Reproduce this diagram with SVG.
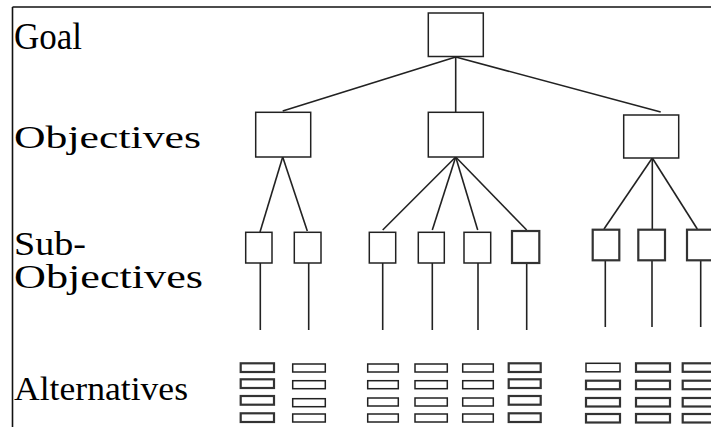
<svg xmlns="http://www.w3.org/2000/svg" width="711" height="427" viewBox="0 0 711 427">
<style>
.bx{fill:#fff;stroke:#222;stroke-width:1.5}
.bt{fill:#fff;stroke:#333;stroke-width:2.2}
.ln{stroke:#222;stroke-width:1.6;fill:none}
.fr{stroke:#111;stroke-width:1.6;fill:none}
.lb{font-family:'Liberation Serif','Times New Roman',serif;fill:#000}
</style>
<rect width="711" height="427" fill="#fff"/>
<g id="frame">
<line class="fr" x1="12.5" y1="7" x2="711" y2="7"/>
<line class="fr" x1="12.5" y1="7" x2="12.5" y2="427"/>
</g>
<g id="labels">
<text class="lb" x="14" y="49" font-size="37" textLength="68" lengthAdjust="spacingAndGlyphs">Goal</text>
<text class="lb" x="14" y="148" font-size="31" textLength="187" lengthAdjust="spacingAndGlyphs">Objectives</text>
<text class="lb" x="14" y="255" font-size="33" textLength="72" lengthAdjust="spacingAndGlyphs">Sub-</text>
<text class="lb" x="14" y="288" font-size="33" textLength="189" lengthAdjust="spacingAndGlyphs">Objectives</text>
<text class="lb" x="14" y="400" font-size="34" textLength="174" lengthAdjust="spacingAndGlyphs">Alternatives</text>
</g>
<g id="connectors">
<line class="ln" x1="455.7" y1="57" x2="282.7" y2="111"/>
<line class="ln" x1="455.7" y1="57" x2="455.7" y2="112"/>
<line class="ln" x1="455.7" y1="57" x2="660.7" y2="112"/>
<line class="ln" x1="282.7" y1="157" x2="260" y2="232"/>
<line class="ln" x1="282.7" y1="157" x2="307.3" y2="231"/>
<line class="ln" x1="455.7" y1="157" x2="382.7" y2="230"/>
<line class="ln" x1="455.7" y1="157" x2="432.3" y2="230"/>
<line class="ln" x1="455.7" y1="157" x2="477.7" y2="230"/>
<line class="ln" x1="455.7" y1="157" x2="526.7" y2="230"/>
<line class="ln" x1="652.3" y1="158" x2="604" y2="229"/>
<line class="ln" x1="652.3" y1="158" x2="652.3" y2="230"/>
<line class="ln" x1="652.3" y1="158" x2="697.3" y2="229"/>
<line class="ln" x1="260.3" y1="263" x2="260.3" y2="330"/>
<line class="ln" x1="308.7" y1="263" x2="308.7" y2="330"/>
<line class="ln" x1="382.7" y1="263" x2="382.7" y2="330"/>
<line class="ln" x1="432.3" y1="263" x2="432.3" y2="330"/>
<line class="ln" x1="478" y1="263" x2="478" y2="330"/>
<line class="ln" x1="526.7" y1="263" x2="526.7" y2="330"/>
<line class="ln" x1="605.3" y1="260" x2="605.3" y2="327"/>
<line class="ln" x1="652" y1="260" x2="652" y2="327"/>
<line class="ln" x1="700.7" y1="260" x2="700.7" y2="327"/>
</g>
<g id="goal"><rect class="bx" x="428.3" y="13" width="55" height="43.5"/></g>
<g id="objective-1"><rect class="bx" x="255.7" y="112.3" width="55" height="44.7"/></g>
<g id="objective-2"><rect class="bx" x="428.3" y="112.3" width="55" height="44.7"/></g>
<g id="objective-3"><rect class="bx" x="623.7" y="115" width="55" height="43"/></g>
<g id="sub-objective-1"><rect class="bx" x="245.7" y="232.3" width="26.3" height="30.7"/></g>
<g id="sub-objective-2"><rect class="bx" x="294.3" y="232.3" width="26.7" height="30.7"/></g>
<g id="sub-objective-3"><rect class="bx" x="369.3" y="232.3" width="26.4" height="30.7"/></g>
<g id="sub-objective-4"><rect class="bx" x="418.3" y="232.3" width="26" height="30.7"/></g>
<g id="sub-objective-5"><rect class="bx" x="464" y="232.3" width="26.7" height="30.7"/></g>
<g id="sub-objective-6"><rect class="bt" x="512" y="231" width="27.3" height="32"/></g>
<g id="sub-objective-7"><rect class="bt" x="592.7" y="229.7" width="26.6" height="30.6"/></g>
<g id="sub-objective-8"><rect class="bt" x="638.3" y="229.7" width="26.7" height="30.6"/></g>
<g id="sub-objective-9"><rect class="bt" x="687" y="229.7" width="30" height="30.6"/></g>
<g id="alternatives-1">
<rect class="bt" x="240.7" y="363.3" width="33.3" height="8.7"/>
<rect class="bt" x="240.7" y="379.3" width="33.3" height="8.7"/>
<rect class="bt" x="240.7" y="396" width="33.3" height="8.7"/>
<rect class="bt" x="240.7" y="413.3" width="33.3" height="8.7"/>
</g>
<g id="alternatives-2">
<rect class="bx" x="292.7" y="364" width="32.6" height="8"/>
<rect class="bx" x="292.7" y="380.7" width="32.6" height="8"/>
<rect class="bx" x="292.7" y="398.7" width="32.6" height="8"/>
<rect class="bx" x="292.7" y="414" width="32.6" height="8"/>
</g>
<g id="alternatives-3">
<rect class="bx" x="367.7" y="364" width="30.6" height="8"/>
<rect class="bx" x="367.7" y="380.7" width="30.6" height="8"/>
<rect class="bx" x="367.7" y="398" width="30.6" height="8"/>
<rect class="bx" x="367.7" y="414" width="30.6" height="8"/>
</g>
<g id="alternatives-4">
<rect class="bx" x="415" y="364" width="32.3" height="8"/>
<rect class="bx" x="415" y="380.7" width="32.3" height="8"/>
<rect class="bx" x="415" y="398" width="32.3" height="8"/>
<rect class="bx" x="415" y="414" width="32.3" height="8"/>
</g>
<g id="alternatives-5">
<rect class="bx" x="462.7" y="364" width="30.6" height="8"/>
<rect class="bx" x="462.7" y="380.7" width="30.6" height="8"/>
<rect class="bx" x="462.7" y="398" width="30.6" height="8"/>
<rect class="bx" x="462.7" y="414" width="30.6" height="8"/>
</g>
<g id="alternatives-6">
<rect class="bt" x="508.7" y="363.3" width="32" height="8.7"/>
<rect class="bt" x="508.7" y="379.3" width="32" height="8.7"/>
<rect class="bt" x="508.7" y="396" width="32" height="8.7"/>
<rect class="bt" x="508.7" y="413.3" width="32" height="8.7"/>
</g>
<g id="alternatives-7">
<rect class="bx" x="586" y="363.3" width="34" height="8.5"/>
<rect class="bt" x="586" y="380.7" width="34" height="8.5"/>
<rect class="bt" x="586" y="398" width="34" height="8.5"/>
<rect class="bt" x="586" y="414" width="34" height="8.5"/>
</g>
<g id="alternatives-8">
<rect class="bt" x="636" y="363.3" width="34" height="8.5"/>
<rect class="bt" x="636" y="380.7" width="34" height="8.5"/>
<rect class="bt" x="636" y="398" width="34" height="8.5"/>
<rect class="bt" x="636" y="414" width="34" height="8.5"/>
</g>
<g id="alternatives-9">
<rect class="bt" x="682.7" y="363.3" width="34" height="8.5"/>
<rect class="bt" x="682.7" y="380.7" width="34" height="8.5"/>
<rect class="bt" x="682.7" y="398" width="34" height="8.5"/>
<rect class="bt" x="682.7" y="414" width="34" height="8.5"/>
</g>
</svg>
